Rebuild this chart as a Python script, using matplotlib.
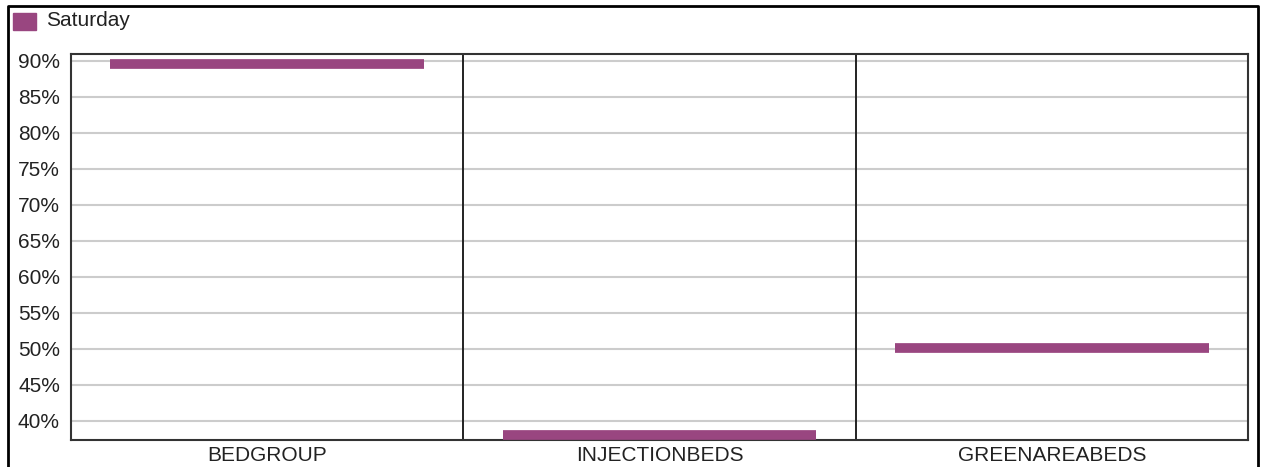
import matplotlib.pyplot as plt
from matplotlib.lines import Line2D
from matplotlib.patches import Rectangle
from matplotlib.ticker import FuncFormatter

categories = ["BEDGROUP", "INJECTIONBEDS", "GREENAREABEDS"]
saturday = [89.6, 38.1, 50.1]
y_ticks = [40, 45, 50, 55, 60, 65, 70, 75, 80, 85, 90]

bar_color = "#994680"
plt.rcParams["font.family"] = ["Liberation Sans", "DejaVu Sans"]

fig = plt.figure(figsize=(12.61, 4.67), dpi=100)
ax = fig.add_axes([71 / 1261, 27 / 467, (1248 - 71) / 1261, (440 - 54) / 467])

x = range(len(categories))
ax.hlines(saturday, [i - 0.4 for i in x], [i + 0.4 for i in x],
          colors=bar_color, linewidth=7, zorder=3)

ax.set_xlim(-0.5, len(categories) - 0.5)
ax.set_ylim(37.36, 90.97)
ax.set_yticks(y_ticks)
ax.yaxis.set_major_formatter(FuncFormatter(lambda v, p: f"{v:.0f}%"))
ax.set_xticks(list(x))
ax.set_xticklabels(categories)
ax.tick_params(axis="both", length=0, labelsize=15, colors="#222222")
ax.tick_params(axis="y", pad=8)
ax.tick_params(axis="x", pad=4)
ax.grid(axis="y", color="#cccccc", linewidth=1.5, zorder=0)

# category separators
for b in range(1, len(categories)):
    ax.axvline(b - 0.5, color="#222222", linewidth=1.4, zorder=2)

for s in ax.spines.values():
    s.set_color("#333333")
    s.set_linewidth(1.5)

# outer border (left, top, right)
fig.add_artist(Line2D([8 / 1261, 8 / 1261, 1258 / 1261, 1258 / 1261],
                      [0, 1 - 6 / 467, 1 - 6 / 467, 0],
                      color="black", linewidth=2))

# legend
fig.add_artist(Rectangle((13 / 1261, 1 - 30 / 467), 23 / 1261, 17 / 467,
                         transform=fig.transFigure, color=bar_color))
fig.text(46 / 1261, 1 - 21 / 467, "Saturday", fontsize=15,
         color="#222222", va="center", ha="left")

fig.savefig("out.png", dpi=100)
